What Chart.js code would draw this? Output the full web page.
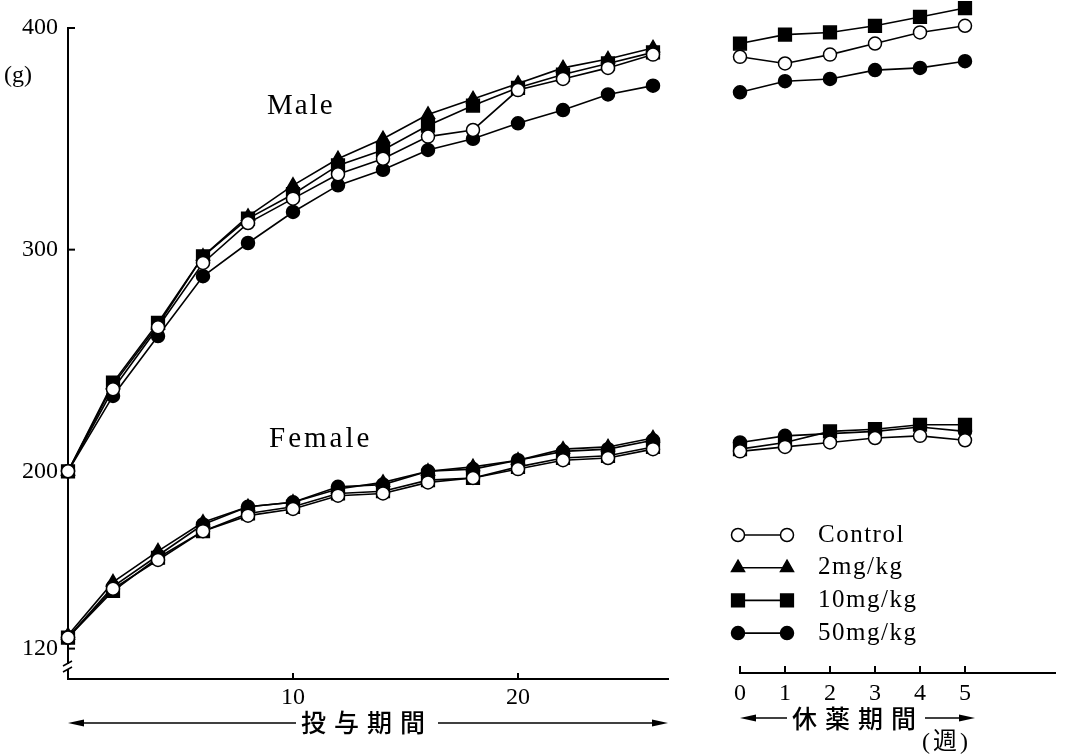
<!DOCTYPE html>
<html lang="ja">
<head>
<meta charset="UTF-8" />
<title>体重推移</title>
<script src="https://cdn.jsdelivr.net/npm/chart.js"></script>
<style>
  html, body { margin: 0; padding: 0; background: #fff; }
  #wrap { position: relative; width: 1067px; height: 755px; overflow: hidden; }
  #wrap canvas { position: absolute; top: 0; }
  #dosing { left: 0; }
  #recovery { left: 700px; }
</style>
</head>
<body>
<div id="wrap">
  <canvas id="dosing" width="700" height="755"></canvas>
  <canvas id="recovery" width="367" height="755"></canvas>
</div>
<script>
  // weeks
  const dosingWeeks = [0, 2, 4, 6, 8, 10, 12, 14, 16, 18, 20, 22, 24, 26];
  const recoveryWeeks = [0, 1, 2, 3, 4, 5];
  const groups = ['Control', '2mg/kg', '10mg/kg', '50mg/kg'];
  const yTicks = [120, 200, 300, 400];
  const dosingXTicks = [10, 20];
  const recoveryXTicks = [0, 1, 2, 3, 4, 5];

  // body weight (g), dosing period
  const maleControl = [200, 237, 265, 294, 312, 323, 334, 341, 351, 354, 372, 377, 382, 388];
  const male2 = [200, 239, 266, 297, 315, 329, 341, 350, 361, 368, 375, 382, 386, 391];
  const male10 = [200, 240, 267, 297, 314, 325, 338, 345, 356, 365, 373, 379, 384, 389];
  const male50 = [200, 234, 261, 288, 303, 317, 329, 336, 345, 350, 357, 363, 370, 374];

  const femaleControl = [125, 147, 160, 173, 180, 183, 189, 190, 195, 197, 201, 205, 206, 210];
  const female2 = [126, 150, 164, 177, 184, 186, 192, 195, 200, 202, 205, 210, 211, 215];
  const female10 = [125, 146, 161, 173, 181, 184, 190, 191, 196, 197, 202, 206, 207, 211];
  const female50 = [125, 148, 162, 176, 184, 186, 193, 194, 200, 201, 205, 209, 210, 214];

  // recovery period (no 2mg/kg group)
  const maleControlR = [387, 384, 388, 393, 398, 401];
  const male10R = [393, 397, 398, 401, 405, 409];
  const male50R = [371, 376, 377, 381, 382, 385];
  const femaleControlR = [209, 211, 213, 215, 216, 214];
  const female10R = [210, 213, 218, 219, 221, 221];
  const female50R = [213, 216, 217, 218, 220, 218];

  const serif = "'Liberation Serif', 'DejaVu Serif', serif";
  const cjk = "'Noto Sans CJK JP', sans-serif";

  const markerStyles = [
    { pointStyle: 'circle', pointRadius: 6.5, pointBackgroundColor: '#fff' },
    { pointStyle: 'triangle', pointRadius: 7.5, pointBackgroundColor: '#000' },
    { pointStyle: 'rect', pointRadius: 9, pointBackgroundColor: '#000' },
    { pointStyle: 'circle', pointRadius: 6.5, pointBackgroundColor: '#000' }
  ];

  function series(xs, ys, g) {
    return Object.assign({
      label: groups[g],
      data: xs.map((x, i) => ({ x: x, y: ys[i] })),
      borderColor: '#000',
      borderWidth: 1.6,
      tension: 0,
      fill: false,
      clip: false,
      pointBorderColor: '#000',
      pointBorderWidth: 1.5
    }, markerStyles[g]);
  }

  function line(ctx, x1, y1, x2, y2) {
    ctx.beginPath();
    ctx.moveTo(x1, y1);
    ctx.lineTo(x2, y2);
    ctx.stroke();
  }

  function arrow(ctx, from, to, y) {
    const dir = to > from ? 1 : -1;
    ctx.lineWidth = 1.6;
    line(ctx, from, y, to - dir * 10, y);
    ctx.beginPath();
    ctx.moveTo(to, y);
    ctx.lineTo(to - dir * 16, y - 3.5);
    ctx.lineTo(to - dir * 16, y + 3.5);
    ctx.closePath();
    ctx.fill();
  }

  function text(ctx, str, x, y, font, spacing, align) {
    ctx.font = font;
    ctx.letterSpacing = (spacing || 0) + 'px';
    ctx.textAlign = align || 'left';
    ctx.textBaseline = 'middle';
    ctx.fillText(str, x, y);
    ctx.letterSpacing = '0px';
  }

  function marker(ctx, style, x, y) {
    ctx.fillStyle = style.pointBackgroundColor;
    ctx.strokeStyle = '#000';
    ctx.lineWidth = 1.5;
    if (Chart.helpers && Chart.helpers.drawPoint) {
      Chart.helpers.drawPoint(ctx, { pointStyle: style.pointStyle, radius: style.pointRadius, rotation: 0, borderWidth: 1.5 }, x, y);
    } else {
      ctx.beginPath();
      ctx.arc(x, y, style.pointRadius, 0, Math.PI * 2);
      ctx.fill();
      ctx.stroke();
    }
  }

  const dosingDeco = {
    id: 'dosingDeco',
    beforeDatasetsDraw(chart) {
      const { ctx, chartArea: a, scales: { x, y } } = chart;
      ctx.save();
      ctx.strokeStyle = '#000';
      ctx.lineWidth = 2;
      yTicks.forEach(v => {
        const py = y.getPixelForValue(v);
        line(ctx, a.left, py, a.left + 7, py);
      });
      dosingXTicks.forEach(v => {
        const px = x.getPixelForValue(v);
        line(ctx, px, a.bottom, px, a.bottom - 6);
      });
      // axis break
      ctx.fillStyle = '#fff';
      ctx.fillRect(a.left - 2, 664, 4, 5);
      ctx.lineWidth = 1.5;
      line(ctx, a.left - 5, 666, a.left + 4, 661);
      line(ctx, a.left - 5, 672, a.left + 4, 667);
      ctx.restore();
    },
    afterDraw(chart) {
      const { ctx, chartArea: a } = chart;
      ctx.save();
      ctx.fillStyle = '#000';
      ctx.strokeStyle = '#000';
      text(ctx, '(g)', 4, 76, '24px ' + serif, 0);
      text(ctx, 'Male', 267, 106, '29px ' + serif, 2);
      text(ctx, 'Female', 269, 439, '29px ' + serif, 3);
      text(ctx, '投与期間', 301, 722, '500 25px ' + cjk, 8);
      arrow(ctx, 296, a.left, 723);
      arrow(ctx, 438, a.right, 723);
      ctx.restore();
    }
  };

  const recoveryDeco = {
    id: 'recoveryDeco',
    beforeDatasetsDraw(chart) {
      const { ctx, chartArea: a, scales: { x } } = chart;
      ctx.save();
      ctx.strokeStyle = '#000';
      ctx.lineWidth = 2;
      recoveryXTicks.forEach(v => {
        const px = x.getPixelForValue(v);
        line(ctx, px, a.bottom, px, a.bottom - 7);
      });
      ctx.restore();
    },
    afterDraw(chart) {
      const { ctx, chartArea: a } = chart;
      ctx.save();
      // legend
      groups.forEach((g, i) => {
        const ly = 535 + i * 32.7;
        ctx.strokeStyle = '#000';
        ctx.lineWidth = 1.6;
        line(ctx, 38, ly, 87, ly);
        marker(ctx, markerStyles[i], 38, ly);
        marker(ctx, markerStyles[i], 87, ly);
        ctx.fillStyle = '#000';
        text(ctx, g, 118, ly, '25px ' + serif, 1.5);
      });
      ctx.fillStyle = '#000';
      ctx.strokeStyle = '#000';
      text(ctx, '休薬期間', 92, 718, '500 25px ' + cjk, 8);
      arrow(ctx, 87, a.left, 718);
      arrow(ctx, 225, 275, 718);
      text(ctx, '(週)', 222, 743, '24px ' + serif + ", " + cjk, 3);
      ctx.restore();
    }
  };

  const tickFont = { family: serif, size: 24 };
  // shared vertical scale: 400 g at y=28, 109 g at y=673 in the recovery panel
  const pxPerGram = (673 - 28) / (400 - 109);

  new Chart(document.getElementById('dosing'), {
    type: 'line',
    data: {
      datasets: [
        series(dosingWeeks, maleControl, 0),
        series(dosingWeeks, male2, 1),
        series(dosingWeeks, male10, 2),
        series(dosingWeeks, male50, 3),
        series(dosingWeeks, femaleControl, 0),
        series(dosingWeeks, female2, 1),
        series(dosingWeeks, female10, 2),
        series(dosingWeeks, female50, 3)
      ]
    },
    options: {
      responsive: false,
      animation: false,
      layout: { autoPadding: false, padding: { left: 0, top: 28, right: 32, bottom: 0 } },
      plugins: { legend: { display: false }, tooltip: { enabled: false } },
      scales: {
        x: {
          type: 'linear', min: 0, max: 600 / 22.5,
          afterBuildTicks: s => { s.ticks = dosingXTicks.map(v => ({ value: v })); },
          afterFit: s => { s.height = 76; },
          grid: { drawOnChartArea: false, drawTicks: false },
          border: { color: '#000', width: 2 },
          ticks: { color: '#000', font: tickFont, padding: 4, maxRotation: 0 }
        },
        y: {
          type: 'linear', min: 400 - (679 - 28) / pxPerGram, max: 400,
          afterBuildTicks: s => { s.ticks = yTicks.map(v => ({ value: v })); },
          afterFit: s => { s.width = 68; },
          grid: { drawOnChartArea: false, drawTicks: false },
          border: { color: '#000', width: 2 },
          ticks: { color: '#000', font: tickFont, padding: 10 }
        }
      }
    },
    plugins: [dosingDeco]
  });

  new Chart(document.getElementById('recovery'), {
    type: 'line',
    data: {
      datasets: [
        series(recoveryWeeks, maleControlR, 0),
        series(recoveryWeeks, male10R, 2),
        series(recoveryWeeks, male50R, 3),
        series(recoveryWeeks, femaleControlR, 0),
        series(recoveryWeeks, female10R, 2),
        series(recoveryWeeks, female50R, 3)
      ]
    },
    options: {
      responsive: false,
      animation: false,
      layout: { autoPadding: false, padding: { left: 40, top: 4, right: 12, bottom: 0 } },
      plugins: { legend: { display: false }, tooltip: { enabled: false } },
      scales: {
        x: {
          type: 'linear', min: 0, max: 7,
          afterBuildTicks: s => { s.ticks = recoveryXTicks.map(v => ({ value: v })); },
          afterFit: s => { s.height = 82; },
          grid: { drawOnChartArea: false, drawTicks: false },
          border: { color: '#000', width: 2 },
          ticks: { color: '#000', font: tickFont, padding: 6, maxRotation: 0 }
        },
        y: { type: 'linear', display: false, min: 109, max: 400 + 24 / pxPerGram }
      }
    },
    plugins: [recoveryDeco]
  });
</script>
</body>
</html>
